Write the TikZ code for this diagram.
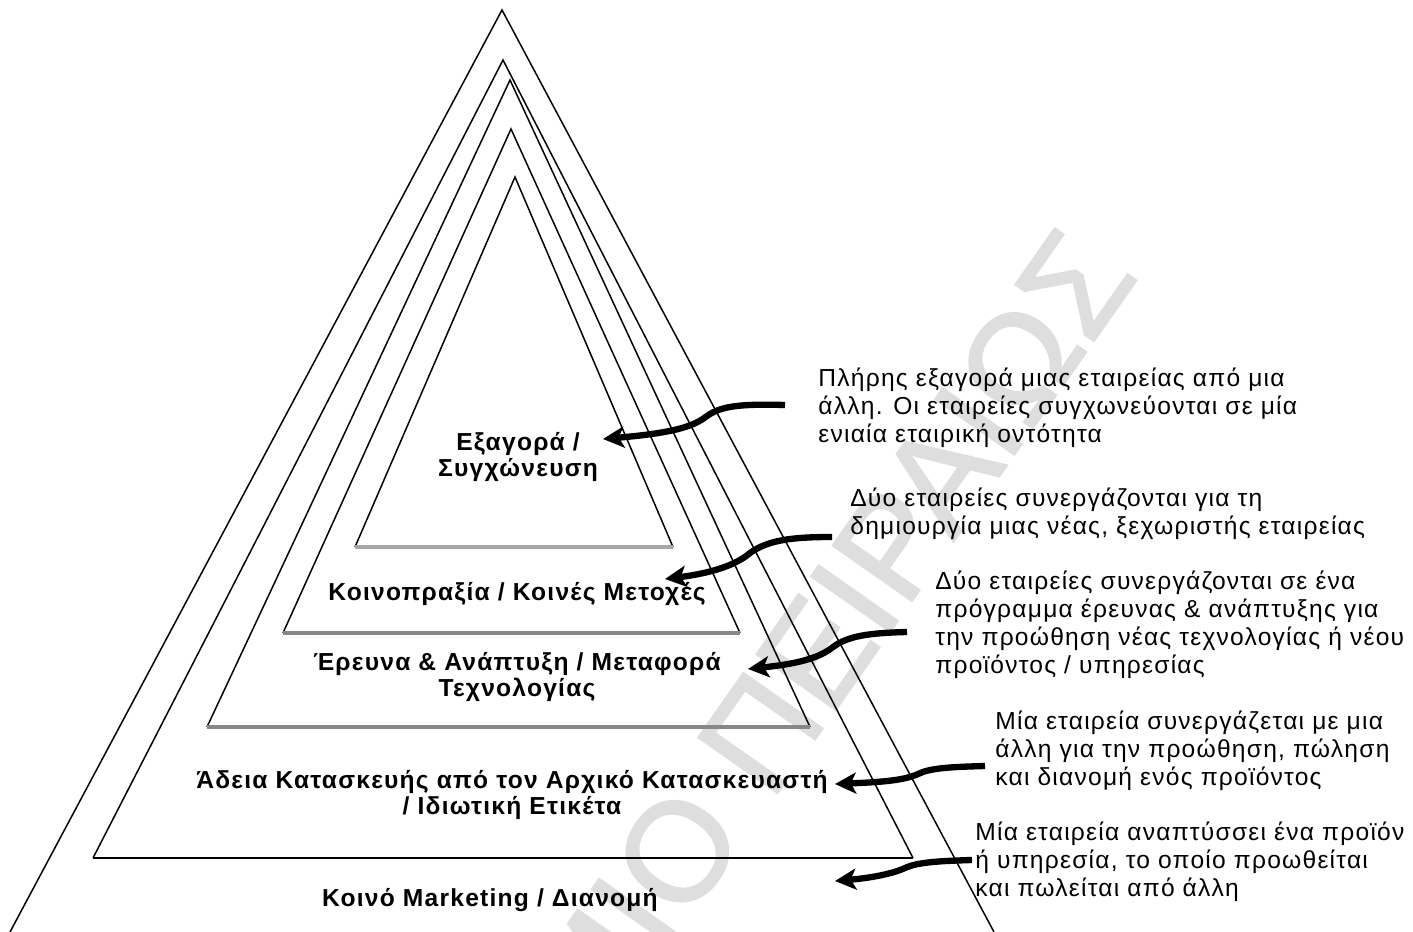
\documentclass[tikz,border=0pt]{standalone}
\usepackage{fontspec}
\setmainfont{Liberation Sans}
\newfontfamily\spfont[LetterSpace=5]{Liberation Sans}
\newfontfamily\wmfont[FakeBold=1.5]{Liberation Sans}
\usetikzlibrary{arrows.meta}
\definecolor{wmgray}{RGB}{222,222,222}
\definecolor{basegray}{RGB}{135,135,135}
\begin{document}
\begin{tikzpicture}[x=0.02cm, y=-0.02cm,
  side/.style={draw=black, line width=0.85pt},
  gbase/.style={draw=basegray, line width=1.8pt},
  kbase/.style={draw=black, line width=1.4pt},
  lbl/.style={font=\spfont\bfseries\fontsize{14}{14.8}\selectfont, align=center, inner sep=0pt},
  desc/.style={font=\spfont\fontsize{14}{15.9}\selectfont, align=left, anchor=west, inner sep=0pt},
  arr/.style={line width=3.6pt, -{Stealth[length=12pt,width=12pt,inset=3pt]}},
  wm/.style={font=\wmfont\fontsize{80}{80}\selectfont, text=wmgray, inner sep=0pt}
]
\useasboundingbox (0,0) rectangle (1413,932);

% watermark
\node[wm, rotate=55, anchor=east] (wmark) at (1100,248) {ΜΙΟ ΠΕΙΡΑΙΩΣ};

% outer triangle
\draw[side] (10,932) -- (502,10) -- (994,932);
% level 2
\draw[side] (93,858) -- (503,60) -- (913,858);
\draw[kbase] (93,858) -- (913,858);
% level 3
\draw[side] (207,727) -- (510,80) -- (810,727);
\draw[gbase] (207,727) -- (810,727);
% level 4
\draw[side] (283,633) -- (511,129) -- (740,633);
\draw[gbase] (283,633) -- (740,633);
% level 5
\draw[side] (355,547) -- (515,177) -- (673,547);
\draw[gbase, draw=black!35] (355,547) -- (673,547);

% pyramid labels
\node[lbl] (l5) at (518,457) {Εξαγορά /\\Συγχώνευση};
\node[lbl] (l4) at (517,594) {Κοινοπραξία / Κοινές Μετοχές};
\node[lbl] (l3) at (517,677) {Έρευνα \& Ανάπτυξη / Μεταφορά\\Τεχνολογίας};
\node[lbl] (l2) at (512,795) {Άδεια Κατασκευής από τον Αρχικό Κατασκευαστή\\/ Ιδιωτική Ετικέτα};
\node[lbl] (l1) at (490,900) {Κοινό Marketing / Διανομή};

% descriptions
\node[desc] (d5) at (818,408) {Πλήρης εξαγορά μιας εταιρείας από μια\\άλλη. Οι εταιρείες συγχωνεύονται σε μία\\ενιαία εταιρική οντότητα};
\node[desc] (d4) at (850,514) {Δύο εταιρείες συνεργάζονται για τη\\δημιουργία μιας νέας, ξεχωριστής εταιρείας};
\node[desc] (d3) at (935,625) {Δύο εταιρείες συνεργάζονται σε ένα\\πρόγραμμα έρευνας \& ανάπτυξης για\\την προώθηση νέας τεχνολογίας ή νέου\\προϊόντος / υπηρεσίας};
\node[desc] (d2) at (995,751) {Μία εταιρεία συνεργάζεται με μια\\άλλη για την προώθηση, πώληση\\και διανομή ενός προϊόντος};
\node[desc] (d1) at (975,862) {Μία εταιρεία αναπτύσσει ένα προϊόν\\ή υπηρεσία, το οποίο προωθείται\\και πωλείται από άλλη};

% arrow end points
\coordinate (a1s) at (785,405); \coordinate (a1e) at (603,439);
\coordinate (a2s) at (832,537); \coordinate (a2e) at (665,579);
\coordinate (a3s) at (907,632); \coordinate (a3e) at (748,669);
\coordinate (a4s) at (985,766); \coordinate (a4e) at (835,784);
\coordinate (a5s) at (972,860); \coordinate (a5e) at (835,881);

\draw[arr] (a1s) .. controls (745,404) and (722,405) .. (707,416) .. controls (693,427) and (672,433) .. (a1e);
\draw[arr] (a2s) .. controls (792,537) and (768,540) .. (750,553) .. controls (736,565) and (712,573) .. (a2e);
\draw[arr] (a3s) .. controls (868,633) and (848,636) .. (833,647) .. controls (818,659) and (795,664) .. (a3e);
\draw[arr] (a4s) .. controls (950,767) and (930,768) .. (918,774) .. controls (905,780) and (885,782) .. (a4e);
\draw[arr] (a5s) .. controls (940,861) and (918,862) .. (905,868) .. controls (892,874) and (870,878) .. (a5e);
\end{tikzpicture}
\end{document}
